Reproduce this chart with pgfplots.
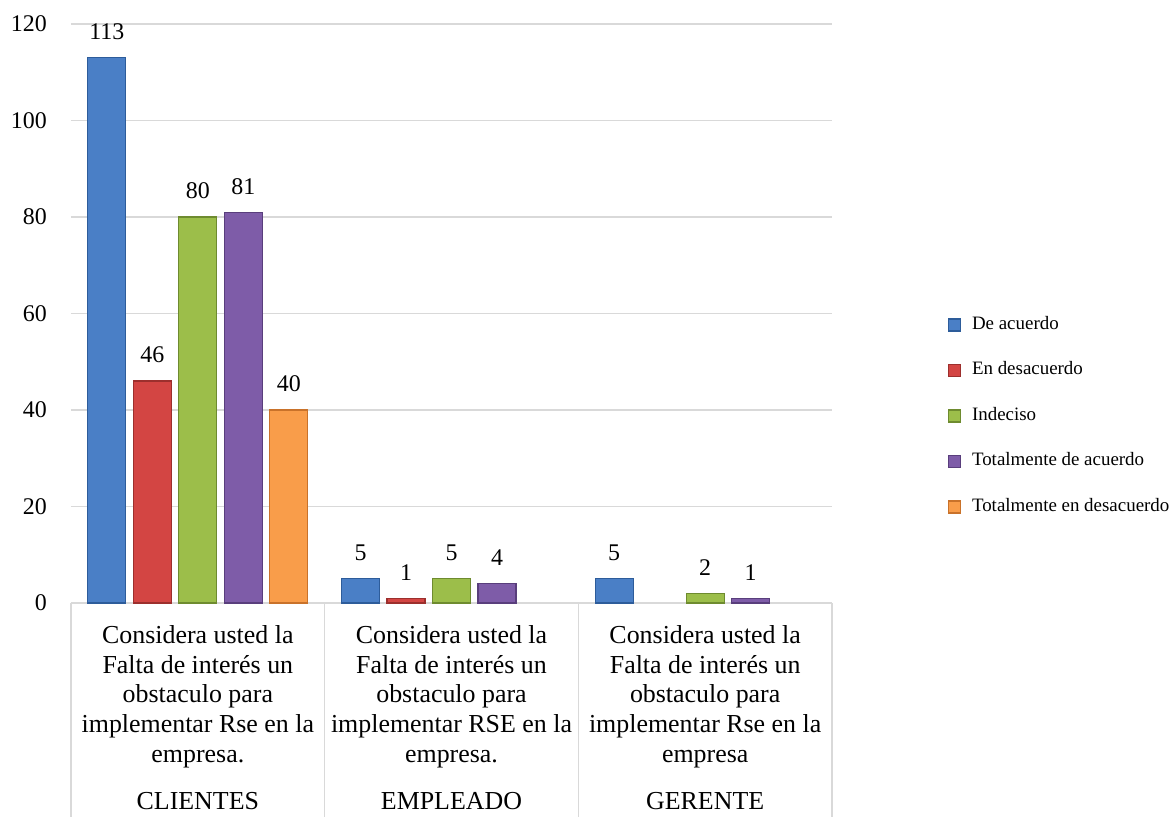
\documentclass[border=0pt]{standalone}
\usepackage{fontspec}
\setmainfont{Liberation Serif}
\usepackage{pgfplots}
\pgfplotsset{compat=1.18}

\definecolor{gridgray}{HTML}{D9D9D9}
\definecolor{blueM}{HTML}{4A7FC6}
\definecolor{blueD}{HTML}{2D5C9A}
\definecolor{redM}{HTML}{D34543}
\definecolor{redD}{HTML}{9C2F2D}
\definecolor{greenM}{HTML}{9CBE4A}
\definecolor{greenD}{HTML}{6E8B2F}
\definecolor{purpM}{HTML}{7E5CA8}
\definecolor{purpD}{HTML}{593E7C}
\definecolor{oranM}{HTML}{F99D4A}
\definecolor{oranD}{HTML}{C9722A}

\begin{document}
\begin{tikzpicture}
\begin{axis}[
  scale only axis,
  width=761bp, height=579bp,
  xmin=-0.5, xmax=2.5,
  ymin=0, ymax=120,
  ytick={0,20,...,120},
  xtick={0,1,2},
  xticklabels={
    {Considera usted la\\Falta de interés un\\obstaculo para\\implementar Rse en la\\empresa.\\[17bp]CLIENTES},
    {Considera usted la\\Falta de interés un\\obstaculo para\\implementar RSE en la\\empresa.\\[17bp]EMPLEADO},
    {Considera usted la\\Falta de interés un\\obstaculo para\\implementar Rse en la\\empresa\\[17bp]GERENTE}},
  ybar=7.5bp, bar width=38bp,
  axis x line=bottom, axis y line=left,
  x axis line style={draw=gridgray, line width=1.5bp, -},
  y axis line style={draw=none},
  major tick length=0pt,
  ymajorgrids,
  grid style={gridgray, line width=1.3bp},
  /pgf/number format/assume math mode=true,
  yticklabel style={font=\fontsize{24}{28}\selectfont, inner sep=0pt, xshift=-24bp},
  xticklabel style={font=\fontsize{26}{30}\selectfont, align=center, anchor=north,
                    inner sep=0pt, yshift=-22bp},
  nodes near coords,
  every node near coord/.append style={font=\fontsize{24}{28}\selectfont, black, yshift=14bp},
  legend style={at={(1.148,0.323)}, anchor=west, draw=none, fill=none,
                font=\fontsize{19}{22}\selectfont,
                nodes={inner sep=0pt, text height=13bp, text depth=4bp},
                row sep=28.5bp, column sep=0bp},
  legend cell align=left,
  legend image code/.code={\path[#1] (0bp,-6bp) rectangle (12bp,6bp);},
  clip=false,
]
\addplot[fill=blueM, draw=blueD, line width=1.2bp]
  coordinates {(0,113) (1,5) (2,5)};
\addlegendentry{\hspace{11bp}De acuerdo}
\addplot[fill=redM, draw=redD, line width=1.2bp]
  coordinates {(0,46) (1,1)};
\addlegendentry{\hspace{11bp}En desacuerdo}
\addplot[fill=greenM, draw=greenD, line width=1.2bp]
  coordinates {(0,80) (1,5) (2,2)};
\addlegendentry{\hspace{11bp}Indeciso}
\addplot[fill=purpM, draw=purpD, line width=1.2bp]
  coordinates {(0,81) (1,4) (2,1)};
\addlegendentry{\hspace{11bp}Totalmente de acuerdo}
\addplot[fill=oranM, draw=oranD, line width=1.2bp]
  coordinates {(0,40)};
\addlegendentry{\hspace{11bp}Totalmente en desacuerdo}

% dividers of the category label table
\pgfplotsinvokeforeach{-0.5,0.5,1.5,2.5}{
  \draw[gridgray, line width=1.5bp] (axis cs:#1,0) -- ([yshift=-214bp]axis cs:#1,0);
}
\end{axis}
\path ([xshift=-71bp,yshift=-214bp]current axis.south west)
  rectangle ([xshift=343bp,yshift=24bp]current axis.north east);
\end{tikzpicture}
\end{document}
